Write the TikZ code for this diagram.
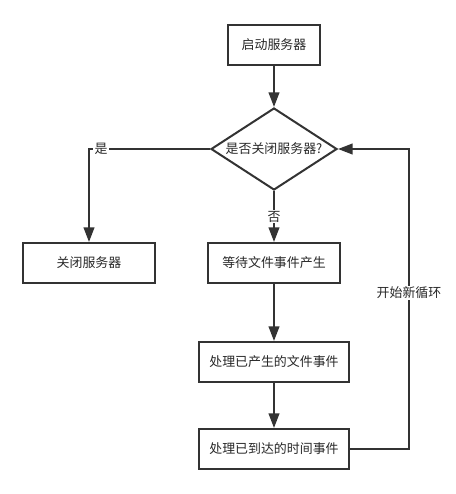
\documentclass[tikz,border=0pt]{standalone}
\usepackage{fontspec}
\setmainfont{Noto Sans CJK SC}
\usepackage{xcolor}
\usetikzlibrary{shapes.geometric, arrows.meta}
\definecolor{LineGray}{RGB}{51,51,51}
\definecolor{TextGray}{RGB}{40,40,40}

\begin{document}
\begin{tikzpicture}[x=0.75pt, y=-0.75pt,
    font=\fontsize{9.7}{11}\selectfont, text=TextGray,
    box/.style={draw=LineGray, line width=1.5pt, fill=white,
      minimum height=30pt, inner sep=0pt},
    decision/.style={diamond, draw=LineGray, line width=1.5pt,
      minimum width=94.5pt, minimum height=61.5pt, inner sep=0pt},
    flow/.style={draw=LineGray, line width=1.5pt,
      -{Triangle[length=11pt, width=8pt]}},
    tag/.style={fill=white, inner sep=1pt}]
  \useasboundingbox (0,0) rectangle (456,494);

  % main column
  \node[box, minimum width=69pt]    (start)   at (274,45)  {启动服务器};
  \node[decision]                   (ask)     at (274,149) {\makebox[0pt]{是否关闭服务器?}};
  \node[box, minimum width=99pt]    (close)   at (89,263)  {关闭服务器};
  \node[box, minimum width=99pt]    (wait)    at (274,263) {等待文件事件产生};
  \node[box, minimum width=112.5pt] (fileev)  at (274,362) {处理已产生的文件事件};
  \node[box, minimum width=112.5pt] (timeev)  at (274,449) {处理已到达的时间事件};

  % corner of the loop back
  \coordinate (loopc) at (409,449);

  \draw[flow] (start) -- (ask);
  \draw[flow] (ask.west) -| node[tag, pos=0.45] {是} (close.north);
  \draw[flow] (ask.south) -- node[tag, pos=0.5] {否} (wait.north);
  \draw[flow] (wait) -- (fileev);
  \draw[flow] (fileev) -- (timeev);
  \draw[flow] (timeev.east) -- (loopc) |- node[tag, pos=0.26] {开始新循环} (ask.east);
\end{tikzpicture}
\end{document}
